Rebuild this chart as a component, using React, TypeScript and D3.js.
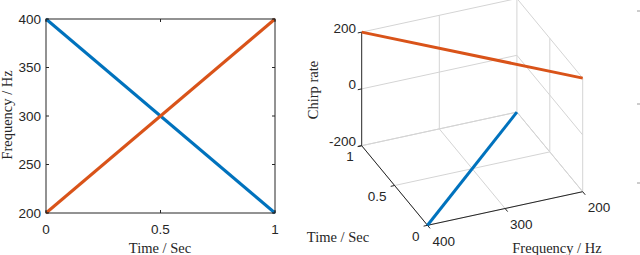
import * as d3 from 'd3';

// chirp data: time in seconds, frequency in Hz, chirp rate in Hz/s
const time = [0, 1];
const upChirpFreq = [200, 400];
const downChirpFreq = [400, 200];
const upChirpRate = 200;
const downChirpRate = -200;

const timeTicks = [0, 0.5, 1];
const freqTicks = [200, 250, 300, 350, 400];
const freq3dTicks = [200, 300, 400];
const rateTicks = [-200, 0, 200];

const BLUE = '#0072BD';
const ORANGE = '#D95319';
const INK = '#262626';
const GRID = '#d4d4d4';
const SANS = '"Liberation Sans", Arial, sans-serif';
const SERIF = '"Liberation Serif", "Times New Roman", serif';
const LW = 3;

type Pt = [number, number];

function FlatChart() {
  const x = d3.scaleLinear().domain([0, 1]).range([46, 275]);
  const y = d3.scaleLinear().domain([200, 400]).range([213, 19]);
  const line = d3
    .line<[number, number]>()
    .x((d) => x(d[0]))
    .y((d) => y(d[1]));
  const tick = 3;

  return (
    <g>
      <path d={line(time.map((t, i) => [t, downChirpFreq[i]]))!} stroke={BLUE} strokeWidth={LW} fill="none" />
      <path d={line(time.map((t, i) => [t, upChirpFreq[i]]))!} stroke={ORANGE} strokeWidth={LW} fill="none" />
      <rect x={x(0)} y={y(400)} width={x(1) - x(0)} height={y(200) - y(400)} fill="none" stroke={INK} strokeWidth={1} />
      {timeTicks.map((t) => (
        <g key={`xt${t}`}>
          <line x1={x(t)} x2={x(t)} y1={y(200)} y2={y(200) - tick} stroke={INK} />
          <line x1={x(t)} x2={x(t)} y1={y(400)} y2={y(400) + tick} stroke={INK} />
          <text x={x(t)} y={y(200) + 16} textAnchor="middle" dominantBaseline="central" fontFamily={SANS} fontSize={13.5} fill={INK}>
            {t}
          </text>
        </g>
      ))}
      {freqTicks.map((f) => (
        <g key={`yt${f}`}>
          <line x1={x(0)} x2={x(0) + tick} y1={y(f)} y2={y(f)} stroke={INK} />
          <line x1={x(1)} x2={x(1) - tick} y1={y(f)} y2={y(f)} stroke={INK} />
          <text x={x(0) - 5} y={y(f)} textAnchor="end" dominantBaseline="central" fontFamily={SANS} fontSize={13.5} fill={INK}>
            {f}
          </text>
        </g>
      ))}
      <text x={160} y={248} textAnchor="middle" dominantBaseline="central" fontFamily={SERIF} fontSize={14.5} fill={INK}>
        Time / Sec
      </text>
      <text
        transform={`translate(7,115) rotate(-90)`}
        textAnchor="middle"
        dominantBaseline="central"
        fontFamily={SERIF}
        fontSize={14.5}
        fill={INK}
      >
        Frequency / Hz
      </text>
    </g>
  );
}

function ChirpCube() {
  // oblique projection of the (time, frequency, chirp rate) box
  const origin: Pt = [427.5, 225.3];
  const vt: Pt = [-65.8, -79.6];
  const vf: Pt = [155.2, -33.6];
  const vz: Pt = [0, -113.6];

  const tS = d3.scaleLinear().domain([0, 1]).range([0, 1]);
  const fS = d3.scaleLinear().domain([400, 200]).range([0, 1]);
  const zS = d3.scaleLinear().domain([-200, 200]).range([0, 1]);

  const proj = (t: number, f: number, z: number): Pt => [
    origin[0] + tS(t) * vt[0] + fS(f) * vf[0] + zS(z) * vz[0],
    origin[1] + tS(t) * vt[1] + fS(f) * vf[1] + zS(z) * vz[1],
  ];
  const line = d3.line<Pt>();
  const seg = (a: Pt, b: Pt) => line([a, b])!;

  const gridSegs: string[] = [];
  // back wall at t = 1
  rateTicks.forEach((z) => gridSegs.push(seg(proj(1, 400, z), proj(1, 200, z))));
  freq3dTicks.filter((f) => f !== 400).forEach((f) => gridSegs.push(seg(proj(1, f, -200), proj(1, f, 200))));
  // side wall at f = 200
  rateTicks.forEach((z) => gridSegs.push(seg(proj(1, 200, z), proj(0, 200, z))));
  timeTicks.filter((t) => t !== 1).forEach((t) => gridSegs.push(seg(proj(t, 200, -200), proj(t, 200, 200))));
  // floor at z = -200
  timeTicks.forEach((t) => gridSegs.push(seg(proj(t, 400, -200), proj(t, 200, -200))));
  freq3dTicks.forEach((f) => gridSegs.push(seg(proj(0, f, -200), proj(1, f, -200))));

  const vfLen = Math.hypot(vf[0], vf[1]);
  const vtLen = Math.hypot(vt[0], vt[1]);
  const tk = 4;
  const offF: Pt = [(-vf[0] / vfLen) * tk, (-vf[1] / vfLen) * tk];
  const offT: Pt = [(-vt[0] / vtLen) * tk, (-vt[1] / vtLen) * tk];

  const up = time.map((t, i) => proj(t, upChirpFreq[i], upChirpRate));
  const down = time.map((t, i) => proj(t, downChirpFreq[i], downChirpRate));

  return (
    <g>
      {gridSegs.map((d, i) => (
        <path key={i} d={d} stroke={GRID} strokeWidth={1} fill="none" />
      ))}
      <path d={seg(proj(1, 400, -200), proj(1, 400, 200))} stroke={INK} fill="none" />
      <path d={seg(proj(0, 400, -200), proj(1, 400, -200))} stroke={INK} fill="none" />
      <path d={seg(proj(0, 400, -200), proj(0, 200, -200))} stroke={INK} fill="none" />

      {rateTicks.map((z) => {
        const p = proj(1, 400, z);
        return (
          <g key={`z${z}`}>
            <line x1={p[0]} y1={p[1]} x2={p[0] + offF[0]} y2={p[1] + offF[1]} stroke={INK} />
            <text x={356} y={p[1] - 4} textAnchor="end" dominantBaseline="central" fontFamily={SANS} fontSize={13.5} fill={INK}>
              {z}
            </text>
          </g>
        );
      })}
      {timeTicks.map((t) => {
        const p = proj(t, 400, -200);
        return (
          <g key={`t${t}`}>
            <line x1={p[0]} y1={p[1]} x2={p[0] + offF[0]} y2={p[1] + offF[1]} stroke={INK} />
            <text x={p[0] - 8} y={p[1] + 11} textAnchor="end" dominantBaseline="central" fontFamily={SANS} fontSize={13.5} fill={INK}>
              {t}
            </text>
          </g>
        );
      })}
      {freq3dTicks.map((f) => {
        const p = proj(0, f, -200);
        return (
          <g key={`f${f}`}>
            <line x1={p[0]} y1={p[1]} x2={p[0] + offT[0]} y2={p[1] + offT[1]} stroke={INK} />
            <text x={p[0] + 5} y={p[1] + 16} textAnchor="start" dominantBaseline="central" fontFamily={SANS} fontSize={13.5} fill={INK}>
              {f}
            </text>
          </g>
        );
      })}

      <path d={line(down)!} stroke={BLUE} strokeWidth={LW} fill="none" />
      <path d={line(up)!} stroke={ORANGE} strokeWidth={LW} fill="none" />

      <text
        transform="translate(313,90) rotate(-90)"
        textAnchor="middle"
        dominantBaseline="central"
        fontFamily={SERIF}
        fontSize={14.5}
        fill={INK}
      >
        Chirp rate
      </text>
      <text x={338} y={237} textAnchor="middle" dominantBaseline="central" fontFamily={SERIF} fontSize={14.5} fill={INK}>
        Time / Sec
      </text>
      <text x={557} y={248} textAnchor="middle" dominantBaseline="central" fontFamily={SERIF} fontSize={14.5} fill={INK}>
        Frequency / Hz
      </text>

      {/* stray tick marks of a neighbouring panel at the right edge */}
      {[11, 104, 183].map((yy) => (
        <line key={yy} x1={637} x2={640} y1={yy} y2={yy} stroke="#9a9a9a" strokeWidth={1} />
      ))}
    </g>
  );
}

export default function App() {
  return (
    <svg
      width={640}
      height={255}
      viewBox="0 0 640 255"
      style={{ position: 'absolute', left: 0, top: 0, background: '#fff' }}
    >
      <rect width={640} height={255} fill="#fff" />
      <FlatChart />
      <ChirpCube />
    </svg>
  );
}
